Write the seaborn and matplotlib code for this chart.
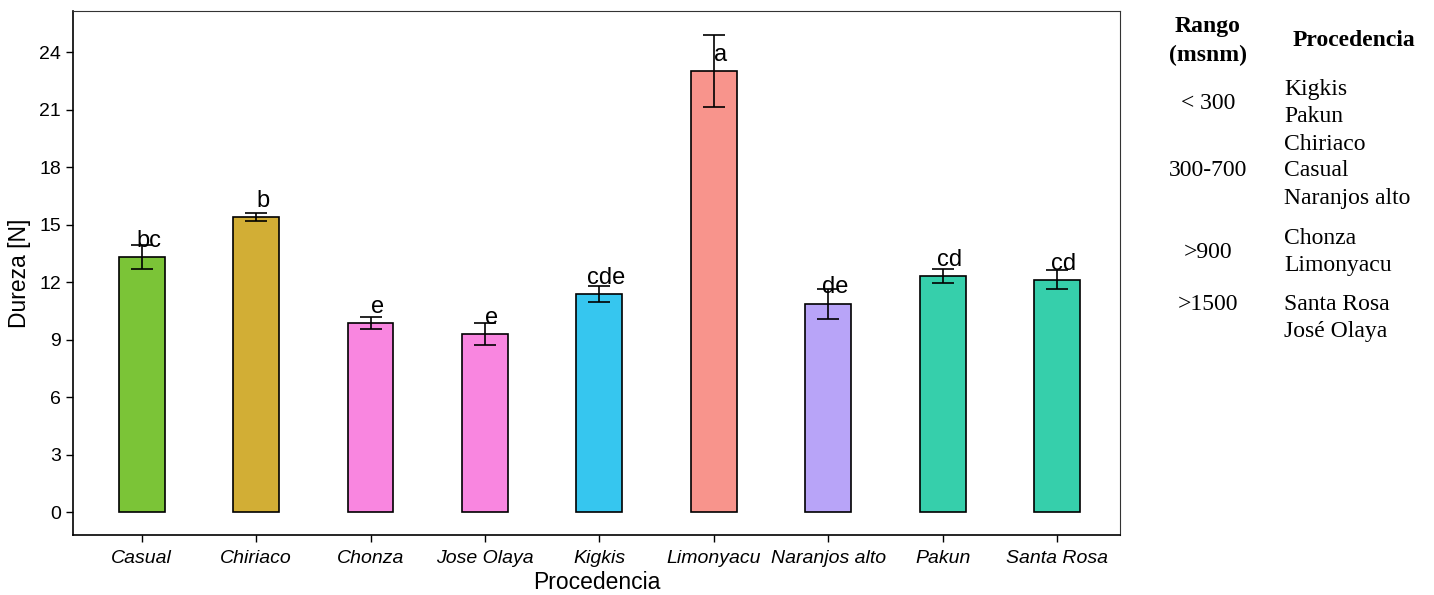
import matplotlib
matplotlib.use("Agg")
import matplotlib.pyplot as plt
import seaborn as sns
import pandas as pd

# Hardness by origin (mean ± error) with letter groups
procedencia = ["Casual", "Chiriaco", "Chonza", "Jose Olaya", "Kigkis",
               "Limonyacu", "Naranjos alto", "Pakun", "Santa Rosa"]
dureza = [13.3, 15.4, 9.85, 9.3, 11.37, 23.02, 10.87, 12.3, 12.12]
error = [0.63, 0.2, 0.31, 0.58, 0.43, 1.9, 0.77, 0.37, 0.49]
letras = ["bc", "b", "e", "e", "cde", "a", "de", "cd", "cd"]
colores = ["#7BC437", "#D2AE35", "#F986E0", "#F986E0", "#36C6EF",
           "#F8948C", "#B8A4F8", "#36CFAB", "#36CFAB"]

# Altitude range table
rangos = ["< 300", "300-700", ">900", ">1500"]
grupos = [["Kigkis", "Pakun"],
          ["Chiriaco", "Casual", "Naranjos alto"],
          ["Chonza", "Limonyacu"],
          ["Santa Rosa", "José Olaya"]]

sns.set_style("ticks")
plt.rcParams["font.family"] = ["Liberation Sans", "DejaVu Sans"]
plt.rcParams["text.color"] = "black"
plt.rcParams["axes.labelcolor"] = "black"

W, H = 1434, 595
fig = plt.figure(figsize=(W / 100, H / 100), dpi=100)
ax = fig.add_axes([73 / W, 1 - 535 / H, (1120 - 73) / W, (535 - 11) / H])

df = pd.DataFrame({"Procedencia": procedencia, "Dureza": dureza})
sns.barplot(data=df, x="Procedencia", y="Dureza", hue="Procedencia",
            palette=colores, saturation=1, width=0.4, edgecolor="black",
            linewidth=1.2, errorbar=None, legend=False, ax=ax)

xs = list(range(len(procedencia)))
ax.errorbar(xs, dureza, yerr=error, fmt="none", ecolor="black",
            elinewidth=1.2, capsize=8, capthick=1.2, zorder=5)

for x, m, lab in zip(xs, dureza, letras):
    ax.text(x + 0.06, m + 0.85, lab, ha="center", va="center",
            fontsize=17, color="black", zorder=6)

ax.set_xlim(-0.6, 8.55)
ax.set_ylim(-1.2, 26.15)
ax.set_yticks(range(0, 25, 3))
ax.set_xlabel("Procedencia", fontsize=16.5, labelpad=3)
ax.set_ylabel("Dureza [N]", fontsize=16.5, labelpad=6)
ax.tick_params(axis="both", labelsize=14, length=5, width=1, colors="black")
ax.tick_params(axis="x", pad=6)
for t in ax.get_xticklabels():
    t.set_fontstyle("italic")
for side in ["left", "bottom"]:
    ax.spines[side].set_linewidth(1.2)
    ax.spines[side].set_color("black")
for side in ["top", "right"]:
    ax.spines[side].set_visible(True)
    ax.spines[side].set_linewidth(0.8)
    ax.spines[side].set_color("#333333")

# Side table (pixel positions converted to figure fractions)
def ftext(px, py, s, **kw):
    fig.text(px / W, 1 - py / H, s, family=["Liberation Serif", "DejaVu Serif"],
             fontsize=17, va="center", color="black", **kw)

ftext(1208, 41, "Rango\n(msnm)", ha="center", fontweight="bold", linespacing=1.45)
ftext(1354, 40, "Procedencia", ha="center", fontweight="bold")

row_y = [[90, 116], [144, 171, 199], [239, 266], [304, 331]]
rango_y = [103, 171, 252, 304]
for r, ry, names, ys in zip(rangos, rango_y, grupos, row_y):
    ftext(1208, ry, r, ha="center")
    for n, y in zip(names, ys):
        ftext(1284, y, n, ha="left")

fig.savefig("out.png", dpi=100)
